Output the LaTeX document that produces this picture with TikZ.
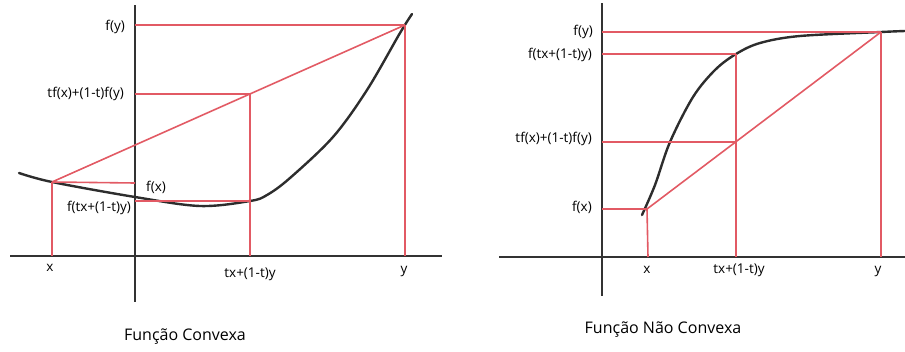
\documentclass[tikz,border=0pt]{standalone}
\usepackage{fontspec}
\setmainfont{Open Sans}
\definecolor{redline}{RGB}{226,90,100}
\definecolor{curvecol}{RGB}{45,45,45}
\begin{document}
\begin{tikzpicture}[x=1pt,y=-1pt,
  axis/.style={draw=black!80,line width=1.8pt},
  guide/.style={draw=redline,line width=1.6pt},
  graph/.style={draw=curvecol,line width=2.4pt,line cap=round},
  lbl/.style={font=\fontsize{13.5}{15}\selectfont,inner sep=0pt},
  ttl/.style={font=\fontsize{16}{18}\selectfont,inner sep=0pt}]
\useasboundingbox (0,0) rectangle (905,351);

% ---------- left panel: convex ----------
\coordinate (LvT) at (135,5);   \coordinate (LvB) at (135,302);
\coordinate (LhL) at (10,256);  \coordinate (LhR) at (442,256);
\coordinate (X1) at (52,182);   \coordinate (Y1) at (405,25);
\coordinate (M1) at (250,94);   \coordinate (F1) at (250,201);
\coordinate (X1b) at (52,256);  \coordinate (M1b) at (250,256); \coordinate (Y1b) at (405,256);
\coordinate (X1a) at (135,183); \coordinate (Y1a) at (135,25);
\coordinate (M1a) at (135,94);  \coordinate (F1a) at (135,201);

\draw[axis] (LvT) -- (LvB);
\draw[axis] (LhL) -- (LhR);
\draw[graph] plot[smooth,tension=0.55] coordinates {(19,173) (52,182) (135,197) (200,206) (250,201) (267,195) (290,178) (333,137) (367,90) (400,33) (412,14)};
\draw[guide] (Y1a) -- (Y1);
\draw[guide] (M1a) -- (M1);
\draw[guide] (X1) -- (Y1);
\draw[guide] (X1) -- (X1a);
\draw[guide] (F1a) -- (F1);
\draw[guide] (X1) -- (X1b);
\draw[guide] (M1) -- (M1b);
\draw[guide] (Y1) -- (Y1b);

\node[lbl,anchor=east] (l1) at (125,27) {f(y)};
\node[lbl,anchor=east] (l2) at (124,94) {tf(x)+(1-t)f(y)};
\node[lbl,anchor=west] (l3) at (146,187) {f(x)};
\node[lbl,anchor=east] (l4) at (131,208) {f(tx+(1-t)y)};
\node[lbl] (l5) at (50,268) {x};
\node[lbl] (l6) at (250,274) {tx+(1-t)y};
\node[lbl] (l7) at (404,272) {y};
\node[ttl] (t1) at (185,337) {Função Convexa};

% ---------- right panel: non convex ----------
\coordinate (RvT) at (602,3);   \coordinate (RvB) at (602,296);
\coordinate (RhL) at (499,257); \coordinate (RhR) at (905,257);
\coordinate (X2) at (647,209);  \coordinate (Y2) at (881,32);
\coordinate (M2) at (736,142);  \coordinate (F2) at (736,54);
\coordinate (X2b) at (648,257); \coordinate (M2b) at (736,257); \coordinate (Y2b) at (881,257);
\coordinate (X2a) at (602,209); \coordinate (Y2a) at (602,32);
\coordinate (M2a) at (602,142); \coordinate (F2a) at (602,54);

\draw[axis] (RvT) -- (RvB);
\draw[axis] (RhL) -- (RhR);
\draw[graph] plot[smooth,tension=0.55] coordinates {(642,215) (655,185) (670,142) (693,97) (715,70) (736,54) (760,43) (800,36) (881,32) (905,31)};
\draw[guide] (Y2a) -- (Y2);
\draw[guide] (F2a) -- (F2);
\draw[guide] (M2a) -- (M2);
\draw[guide] (X2a) -- (X2);
\draw[guide] (X2) -- (Y2);
\draw[guide] (X2) -- (X2b);
\draw[guide] (F2) -- (M2b);
\draw[guide] (Y2) -- (Y2b);

\node[lbl,anchor=east] (r1) at (593,32) {f(y)};
\node[lbl,anchor=east] (r2) at (592,55) {f(tx+(1-t)y)};
\node[lbl,anchor=east] (r3) at (592,139) {tf(x)+(1-t)f(y)};
\node[lbl,anchor=east] (r4) at (592,207) {f(x)};
\node[lbl] (r5) at (647,270) {x};
\node[lbl] (r6) at (739,270) {tx+(1-t)y};
\node[lbl] (r7) at (878,272) {y};
\node[ttl] (t2) at (663,330) {Função Não Convexa};
\end{tikzpicture}
\end{document}
